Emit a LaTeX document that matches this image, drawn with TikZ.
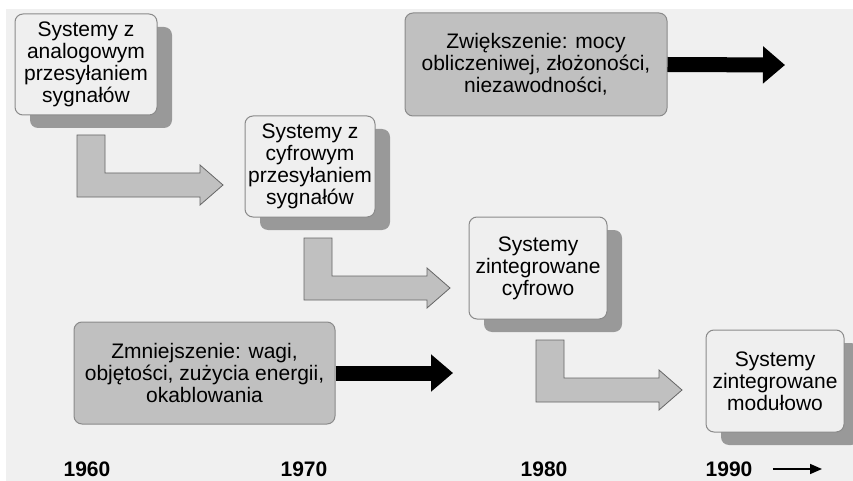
\documentclass[tikz,border=0pt]{standalone}
\usepackage{fontspec}
\setmainfont{Liberation Sans}
\usetikzlibrary{arrows.meta}
\usetikzlibrary{shadows}
\usetikzlibrary{positioning}
\definecolor{bgray}{HTML}{F0F0F0}
\definecolor{boxfill}{HTML}{EFEFEF}
\definecolor{shgray}{HTML}{999999}
\definecolor{mgray}{HTML}{C0C0C0}
\definecolor{edge}{HTML}{8A8A8A}
\tikzset{
  sysbox/.style = {draw = edge, fill = boxfill, line width = 1pt, rounded corners = 8pt,
    align = center, inner sep = 0, font = \fontsize{21}{22}\selectfont,
    drop shadow = {shadow xshift = 15pt, shadow yshift = -13pt, opacity = 1, fill = shgray}},
  trendbox/.style = {draw = edge, fill = mgray, line width = 1pt, rounded corners = 8pt,
    align = center, inner sep = 0, font = \fontsize{21}{22}\selectfont},
  year/.style = {font = \bfseries\fontsize{21}{22}\selectfont},
  bendarrow/.style = {draw = black!60, fill = mgray, line width = 0.8pt},
  blkarrow/.style = {line width = 15pt, -{Triangle[length = 22pt, width = 36pt]}},
  timearrow/.style = {line width = 1.6pt, -{Triangle[length = 12pt, width = 10pt]}}
}

\begin{document}
\begin{tikzpicture}[x = 1pt, y = -1pt]
  \useasboundingbox (0, 0) rectangle (853, 481);
  \fill [bgray] (6, 9) rectangle (853, 481);

  \node [sysbox, minimum width = 142, minimum height = 101] (sys1) at (86, 64.5)
    {Systemy z\\analogowym\\przesyłaniem\\sygnałów};
  \node [sysbox, minimum width = 130, minimum height = 101] (sys2) at (310, 166.5)
    {Systemy z\\cyfrowym\\przesyłaniem\\sygnałów};
  \node [sysbox, minimum width = 138, minimum height = 102] (sys3) at (538, 268)
    {Systemy\\zintegrowane\\cyfrowo};
  \node [sysbox, minimum width = 138, minimum height = 102] (sys4) at (775, 381)
    {Systemy\\zintegrowane\\modułowo};

  \node [trendbox, minimum width = 262, minimum height = 103] (more) at (536, 64.5)
    {Zwiększenie: mocy\\obliczeniwej, złożoności,\\niezawodności,};
  \node [trendbox, minimum width = 261, minimum height = 102] (less) at (204.5, 373)
    {Zmniejszenie: wagi,\\objętości, zużycia energii,\\okablowania};

  % bent arrows between the systems
  \coordinate (b1) at (77, 135);
  \coordinate (b2) at (304, 238);
  \coordinate (b3) at (536, 340);
  \foreach \b in {b1, b2, b3}
    \draw [bendarrow] (\b) -- ++(28, 0) -- ++(0, 38) -- ++(95, 0) -- ++(0, -8)
      -- ++(23, 20) -- ++(-23, 20) -- ++(0, -8) -- ++(-123, 0) -- cycle;

  \coordinate (moretip) at (785, 65);
  \coordinate (lesstip) at (453, 373);
  \draw [blkarrow] (more.east) -- (moretip);
  \draw [blkarrow] (less.east) -- (lesstip);

  \node [year] (y60) at (87, 469) {1960};
  \node [year] (y70) at (304, 469) {1970};
  \node [year] (y80) at (544, 469) {1980};
  \node [year] (y90) at (729, 469) {1990};
  \coordinate (timeend) at (822, 469);
  \draw [timearrow] ([xshift = 17pt] y90.east) -- (timeend);
\end{tikzpicture}
\end{document}
